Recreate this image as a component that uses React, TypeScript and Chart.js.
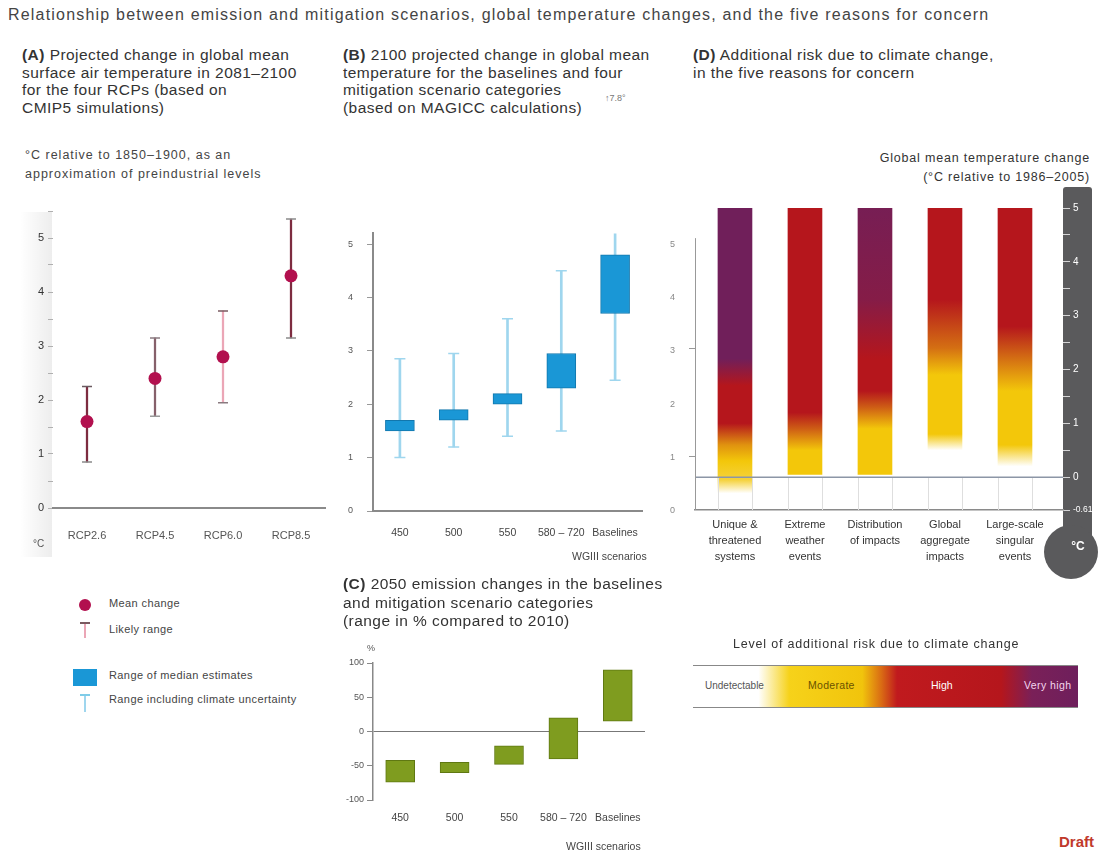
import React, { useEffect, useRef } from 'react';
import { Chart, registerables } from 'chart.js';
Chart.register(...registerables);

const FONT = '"Liberation Sans", Arial, Helvetica, sans-serif';
Chart.defaults.font.family = FONT;

// ---------- Panel A: CMIP5 projected change 2081-2100 (°C rel. 1850-1900)
const rcpLabels = ['RCP2.6', 'RCP4.5', 'RCP6.0', 'RCP8.5'];
const rcpMean = [1.6, 2.4, 2.8, 4.3];
const rcpLow = [0.85, 1.7, 1.95, 3.15];
const rcpHigh = [2.25, 3.15, 3.65, 5.35];

// ---------- Panel B: 2100 change, MAGICC (°C rel. 1850-1900)
const scenarioLabels = ['450', '500', '550', '580 – 720', 'Baselines'];
const tempMedianLow = [1.5, 1.7, 2.0, 2.3, 3.7];
const tempMedianHigh = [1.7, 1.9, 2.2, 2.95, 4.8];
const tempFullLow = [1.0, 1.2, 1.4, 1.5, 2.45];
const tempFullHigh = [2.85, 2.95, 3.6, 4.5, 7.8];
const tempTicks = [0, 1, 2, 3, 4, 5];

// ---------- Panel C: 2050 emission change (% vs 2010)
const emissionLow = [-74, -60, -48, -40, 15];
const emissionHigh = [-42, -45, -21, 20, 90];
const emissionTicks = [-100, -50, 0, 50, 100];

// ---------- Panel D: reasons for concern (°C rel. 1986-2005)
const reasonLabels = [
  ['Unique &', 'threatened', 'systems'],
  ['Extreme', 'weather', 'events'],
  ['Distribution', 'of impacts'],
  ['Global', 'aggregate', 'impacts'],
  ['Large-scale', 'singular', 'events'],
];
const reasonBase = [-0.3, 0.05, 0.05, 0.05, 0.05];
const reasonTop = [5, 5, 5, 5, 5];
// [temperature, risk level: 0 undetectable, 1 moderate, 2 high, 3 very high]
const riskUnique = [[-0.3, 0], [-0.05, 0.8], [0.3, 1], [0.6, 1.3], [1.0, 2], [1.7, 2], [2.2, 3], [4.7, 3], [5, 3.15]];
const riskExtreme = [[0.05, 1], [0.5, 1], [0.9, 1.6], [1.2, 2], [5, 2]];
const riskDistribution = [[0.05, 1], [0.9, 1], [1.3, 1.6], [1.6, 2], [2.2, 2], [3.3, 2.7], [5, 2.9]];
const riskGlobal = [[0.5, 0], [0.8, 1], [1.9, 1], [2.4, 1.5], [3.3, 2], [5, 2]];
const riskSingular = [[0.2, 0], [0.6, 1], [1.6, 1], [2.2, 1.5], [2.8, 2], [5, 2]];
const riskProfiles = [riskUnique, riskExtreme, riskDistribution, riskGlobal, riskSingular];
const thermoTicks = [-0.61, 0, 0.5, 1, 1.5, 2, 2.5, 3, 3.5, 4, 4.5, 5];
const thermoLabels = [-0.61, 0, 1, 2, 3, 4, 5];
const preindTicks = [1, 3];

const riskPalette = [[255, 255, 255], [243, 199, 10], [181, 22, 28], [112, 31, 90]];
function riskColor(level: number) {
  const l = Math.max(0, Math.min(3, level));
  const i = Math.min(2, Math.floor(l));
  const f = l - i;
  const a = riskPalette[i], b = riskPalette[i + 1];
  const c = a.map((v, k) => Math.round(v + (b[k] - v) * f));
  return `rgb(${c[0]},${c[1]},${c[2]})`;
}

const base: any = {
  responsive: false,
  animation: false,
  devicePixelRatio: 1,
  events: [],
  plugins: { legend: { display: false }, tooltip: { enabled: false } },
};

function configA(): any {
  return {
    type: 'bar',
    data: {
      labels: rcpLabels,
      datasets: [
        { type: 'bar', data: rcpLow.map((v, i) => [v, rcpHigh[i]]), backgroundColor: ['#7d2c40', '#86606a', '#eba6b6', '#7d2c40'], barThickness: 1.6, order: 3 },
        { type: 'line', data: rcpHigh, showLine: false, pointStyle: 'line', pointRadius: 5, pointBorderColor: ['#6a5a60', '#8a7a80', '#7a5a60', '#8a8a8a'], pointBorderWidth: 1.5, order: 2 },
        { type: 'line', data: rcpLow, showLine: false, pointStyle: 'line', pointRadius: 5, pointBorderColor: ['#8a8a8a', '#9a9a9a', '#8a7a80', '#8a8a8a'], pointBorderWidth: 1.5, order: 2 },
        { type: 'line', data: rcpMean, showLine: false, pointStyle: 'circle', pointRadius: 6.5, pointBackgroundColor: '#b2104e', pointBorderColor: '#b2104e', pointBorderWidth: 0, order: 1 },
      ],
    },
    options: {
      ...base,
      layout: { padding: { top: 11, right: 15, left: 0, bottom: 0 } },
      scales: {
        x: {
          grid: { display: false, drawTicks: false },
          border: { display: true, color: '#8a8a8a', width: 2 },
          ticks: { color: '#555', font: { size: 11 }, padding: 21, maxRotation: 0, minRotation: 0, autoSkip: false },
          afterFit: (s: any) => { s.height = 52; },
        },
        y: {
          min: 0, max: 5.5,
          ticks: { stepSize: 0.5, color: '#333', font: { size: 11 }, padding: 4, callback: (v: number) => (Number.isInteger(v) ? String(v) : '') },
          grid: { drawOnChartArea: false, tickLength: 5, color: '#b0b0b0' },
          border: { display: false },
          afterFit: (s: any) => { s.width = 53; },
        },
      },
    },
  };
}

function configB(): any {
  return {
    type: 'bar',
    data: {
      labels: scenarioLabels,
      datasets: [
        { type: 'bar', data: tempFullLow.map((v, i) => [v, tempFullHigh[i]]), backgroundColor: '#9fd6ee', barThickness: 2, grouped: false, order: 3 },
        { type: 'bar', data: tempMedianLow.map((v, i) => [v, tempMedianHigh[i]]), backgroundColor: '#1a97d6', borderColor: '#1277ad', borderWidth: 1, borderSkipped: false, barThickness: 29, grouped: false, order: 1 },
        { type: 'line', data: tempFullHigh, showLine: false, pointStyle: 'line', pointRadius: 5.5, pointBorderColor: '#9fd6ee', pointBorderWidth: 1.5, order: 2 },
        { type: 'line', data: tempFullLow, showLine: false, pointStyle: 'line', pointRadius: 5.5, pointBorderColor: '#9fd6ee', pointBorderWidth: 1.5, order: 2 },
      ],
    },
    options: {
      ...base,
      layout: { padding: { top: 33, right: 0, left: 0, bottom: 0 } },
      scales: {
        x: {
          grid: { display: false, drawTicks: false },
          border: { display: true, color: '#8a8a8a', width: 2 },
          ticks: { color: '#444', font: { size: 10.5 }, padding: 16, maxRotation: 0, minRotation: 0, autoSkip: false },
          afterFit: (s: any) => { s.height = 49; },
        },
        y: {
          min: 0, max: 5.2,
          afterBuildTicks: (s: any) => { s.ticks = tempTicks.map((value) => ({ value })); },
          ticks: { color: '#555', font: { size: 9 }, padding: 14 },
          grid: { drawOnChartArea: false, tickLength: 6, color: '#999' },
          border: { display: true, color: '#8a8a8a', width: 2 },
          afterFit: (s: any) => { s.width = 33; },
        },
        y2: {
          position: 'right',
          min: 0, max: 5.2,
          afterBuildTicks: (s: any) => { s.ticks = tempTicks.map((value) => ({ value })); },
          ticks: { color: '#888', font: { size: 9 }, padding: 28 },
          grid: { display: false, drawTicks: false },
          border: { display: false },
          afterFit: (s: any) => { s.width = 43; },
        },
      },
    },
  };
}

function configC(): any {
  return {
    type: 'bar',
    data: {
      labels: scenarioLabels,
      datasets: [
        { type: 'bar', data: emissionLow.map((v, i) => [v, emissionHigh[i]]), backgroundColor: '#7f9c1f', borderColor: '#5f7812', borderWidth: 1, borderSkipped: false, barThickness: 29 },
      ],
    },
    options: {
      ...base,
      layout: { padding: { top: 23, right: 20, left: 0, bottom: 0 } },
      scales: {
        x: {
          grid: { display: false, drawTicks: false },
          border: { display: false },
          ticks: { color: '#444', font: { size: 10.5 }, padding: 12, maxRotation: 0, minRotation: 0, autoSkip: false },
          afterFit: (s: any) => { s.height = 40; },
        },
        y: {
          min: -100, max: 100,
          afterBuildTicks: (s: any) => { s.ticks = emissionTicks.map((value) => ({ value })); },
          ticks: { color: '#555', font: { size: 9 }, padding: 3 },
          grid: { color: (c: any) => (c.tick && c.tick.value === 0 ? '#777' : 'rgba(0,0,0,0)'), tickColor: '#888', tickLength: 6 },
          border: { display: true, color: '#888', width: 1.5 },
          afterFit: (s: any) => { s.width = 53; },
        },
      },
    },
  };
}

function riskGradient(c: any) {
  const chart = c.chart;
  if (!chart.chartArea || c.dataIndex === undefined) return 'rgba(0,0,0,0)';
  const i = c.dataIndex;
  const y = chart.scales.y;
  const lo = reasonBase[i], hi = reasonTop[i];
  const y0 = y.getPixelForValue(lo), y1 = y.getPixelForValue(hi);
  const g = chart.ctx.createLinearGradient(0, y0, 0, y1);
  riskProfiles[i].forEach(([t, l]) => {
    const p = Math.max(0, Math.min(1, (t - lo) / (hi - lo)));
    g.addColorStop(p, riskColor(l));
  });
  return g;
}

const thermoPlugin = {
  id: 'thermo',
  beforeDraw(chart: any) {
    const { ctx, chartArea } = chart;
    const y = chart.scales.y;
    const x0 = y.left;
    ctx.save();
    ctx.fillStyle = '#5a5a5c';
    ctx.beginPath();
    ctx.roundRect(x0, chartArea.top - 21, 29, chartArea.bottom - chartArea.top + 50, 3);
    ctx.fill();
    ctx.beginPath();
    ctx.arc(x0 + 8, chartArea.bottom + 42, 27, 0, Math.PI * 2);
    ctx.fill();
    ctx.fillStyle = '#ffffff';
    ctx.font = `bold 12px ${FONT}`;
    ctx.textAlign = 'center';
    ctx.textBaseline = 'middle';
    ctx.fillText('°C', x0 + 15, chartArea.bottom + 37);
    ctx.restore();
  },
  afterDatasetsDraw(chart: any) {
    const { ctx, chartArea } = chart;
    const y = chart.scales.y;
    const yl = chart.scales.yL;
    const y0 = y.getPixelForValue(0);
    ctx.save();
    ctx.strokeStyle = '#dedede';
    ctx.lineWidth = 1;
    chart.getDatasetMeta(0).data.forEach((el: any) => {
      [el.x - el.width / 2, el.x + el.width / 2].forEach((xx) => {
        ctx.beginPath();
        ctx.moveTo(Math.round(xx) + 0.5, y0);
        ctx.lineTo(Math.round(xx) + 0.5, chartArea.bottom);
        ctx.stroke();
      });
    });
    ctx.strokeStyle = '#8c96a6';
    ctx.lineWidth = 1.5;
    ctx.beginPath();
    ctx.moveTo(chartArea.left, y0);
    ctx.lineTo(chartArea.right, y0);
    ctx.stroke();
    ctx.strokeStyle = '#999';
    ctx.lineWidth = 1;
    ctx.beginPath();
    ctx.moveTo(chartArea.left + 0.5, yl.getPixelForValue(5.05));
    ctx.lineTo(chartArea.left + 0.5, chartArea.bottom);
    ctx.stroke();
    ctx.restore();
  },
};

function configD(): any {
  return {
    type: 'bar',
    data: {
      datasets: [
        {
          type: 'bar',
          data: reasonBase.map((b, i) => ({ x: i, y: [b, reasonTop[i]] })),
          backgroundColor: riskGradient,
          barThickness: 34,
          borderWidth: 0,
        },
      ],
    },
    plugins: [thermoPlugin],
    options: {
      ...base,
      layout: { padding: { top: 28, right: 0, left: 0, bottom: 0 } },
      scales: {
        x: {
          type: 'linear', offset: false,
          min: -0.571, max: 4.686,
          afterBuildTicks: (s: any) => { s.ticks = reasonLabels.map((_, i) => ({ value: i })); },
          ticks: { color: '#333', font: { size: 11, lineHeight: 1.45 }, padding: 7, maxRotation: 0, minRotation: 0, autoSkip: false, callback: (v: number) => reasonLabels[v] || '' },
          grid: { display: false, drawTicks: false },
          border: { display: true, color: '#8a8a8a', width: 1.5 },
          afterFit: (s: any) => { s.height = 80; },
        },
        y: {
          position: 'right',
          min: -0.61, max: 5,
          afterBuildTicks: (s: any) => { s.ticks = thermoTicks.map((value) => ({ value })); },
          ticks: {
            color: '#ffffff', padding: 3,
            font: (c: any) => ({ size: c.tick && c.tick.value < 0 ? 8.5 : 10 }),
            callback: (v: number) => (thermoLabels.includes(v) ? String(v) : ''),
          },
          grid: { drawOnChartArea: false, tickLength: 7, color: 'rgba(255,255,255,0.75)' },
          border: { display: false },
          afterFit: (s: any) => { s.width = 36; },
        },
        yL: {
          position: 'left',
          min: 0, max: 5.61,
          afterBuildTicks: (s: any) => { s.ticks = preindTicks.map((value) => ({ value })); },
          ticks: { display: false },
          grid: { drawOnChartArea: false, tickLength: 6, color: '#999' },
          border: { display: false },
          afterFit: (s: any) => { s.width = 15; },
        },
      },
    },
  };
}

function ChartBox({ left, top, width, height, make }: any) {
  const ref = useRef<HTMLCanvasElement>(null);
  useEffect(() => {
    const c = new Chart(ref.current as HTMLCanvasElement, make());
    return () => c.destroy();
  }, []);
  return <canvas ref={ref} width={width} height={height} style={{ position: 'absolute', left, top, width, height }} />;
}

function T({ x, y, r, s = 12, c = '#333', w = 400, lh, ls, children }: any) {
  const st: any = {
    position: 'absolute', top: y, fontSize: s, color: c, fontWeight: w,
    lineHeight: lh ? lh + 'px' : 'normal', whiteSpace: 'pre', fontFamily: FONT, letterSpacing: ls,
  };
  if (r !== undefined) { st.right = r; st.textAlign = 'right'; } else st.left = x;
  return <div style={st}>{children}</div>;
}

const HS = 15.5;
const HLS = 0.45;

export default function App() {
  return (
    <div style={{ position: 'fixed', left: 0, top: 0, width: 1099, height: 855, background: '#fff', overflow: 'hidden', fontFamily: FONT }}>
      <T x={8} y={5} s={16} c="#444" lh={19} ls={1.2}>Relationship between emission and mitigation scenarios, global temperature changes, and the five reasons for concern</T>

      {/* Panel A */}
      <T x={22} y={46} s={HS} ls={HLS} lh={17.5}><b>(A)</b> Projected change in global mean{'\n'}surface air temperature in 2081–2100{'\n'}for the four RCPs (based on{'\n'}CMIP5 simulations)</T>
      <T x={25} y={146} s={12.5} ls={1} c="#444" lh={19}>°C relative to 1850–1900, as an{'\n'}approximation of preindustrial levels</T>
      <div style={{ position: 'absolute', left: 20, top: 212, width: 32, height: 345, background: 'linear-gradient(to right, rgba(0,0,0,0), rgba(0,0,0,0.07))' }} />
      <ChartBox left={0} top={200} width={340} height={360} make={configA} />
      <T x={33} y={538} s={10} c="#555">°C</T>

      {/* Legend A/B */}
      <div style={{ position: 'absolute', left: 79, top: 599, width: 12, height: 12, borderRadius: 6, background: '#b2104e' }} />
      <T x={109} y={597} s={11} ls={0.4} c="#444">Mean change</T>
      <div style={{ position: 'absolute', left: 84, top: 622, width: 2, height: 16, background: '#eba6b6' }} />
      <div style={{ position: 'absolute', left: 80, top: 622, width: 10, height: 1.5, background: '#7a5a60' }} />
      <T x={109} y={623} s={11} ls={0.4} c="#444">Likely range</T>
      <div style={{ position: 'absolute', left: 73, top: 669, width: 24, height: 17, background: '#1a97d6' }} />
      <T x={109} y={669} s={11} ls={0.4} c="#444">Range of median estimates</T>
      <div style={{ position: 'absolute', left: 84, top: 694, width: 2, height: 18, background: '#9fd6ee' }} />
      <div style={{ position: 'absolute', left: 80, top: 694, width: 10, height: 1.5, background: '#7fcce8' }} />
      <T x={109} y={693} s={11} ls={0.4} c="#444">Range including climate uncertainty</T>

      {/* Panel B */}
      <T x={343} y={46} s={HS} ls={HLS} lh={17.5}><b>(B)</b> 2100 projected change in global mean{'\n'}temperature for the baselines and four{'\n'}mitigation scenario categories{'\n'}(based on MAGICC calculations)</T>
      <T x={605} y={93} s={9} c="#777">↑7.8°</T>
      <ChartBox left={340} top={200} width={345} height={360} make={configB} />
      <T x={572} y={550} s={10.5} c="#444">WGIII scenarios</T>

      {/* Panel C */}
      <T x={343} y={575} s={HS} ls={HLS} lh={18.5}><b>(C)</b> 2050 emission changes in the baselines{'\n'}and mitigation scenario categories{'\n'}(range in % compared to 2010)</T>
      <ChartBox left={320} top={640} width={345} height={200} make={configC} />
      <T x={367} y={643} s={9} c="#555">%</T>
      <T x={566} y={840} s={10.5} c="#444">WGIII scenarios</T>

      {/* Panel D */}
      <T x={693} y={46} s={HS} ls={HLS} lh={17.5}><b>(D)</b> Additional risk due to climate change,{'\n'}in the five reasons for concern</T>
      <T r={9} y={149} s={12.5} ls={0.8} c="#333" lh={19}>Global mean temperature change{'\n'}(°C relative to 1986–2005)</T>
      <ChartBox left={680} top={180} width={419} height={410} make={configD} />

      {/* Risk legend */}
      <T x={733} y={637} s={12.5} ls={0.8} c="#333">Level of additional risk due to climate change</T>
      <div style={{
        position: 'absolute', left: 693, top: 665, width: 385, height: 41,
        borderTop: '1px solid #888', borderBottom: '1px solid #888',
        background: 'linear-gradient(to right, #ffffff 0%, #ffffff 17%, #f6d21a 25%, #f1c40c 44%, #d96a14 49%, #c01a1e 53%, #b5161c 80%, #7a2058 88%, #6e1f5c 100%)',
      }} />
      <T x={705} y={680} s={10} c="#555">Undetectable</T>
      <T x={808} y={679} s={10.5} ls={0.3} c="#6a5200">Moderate</T>
      <T x={931} y={679} s={10.5} c="#fff">High</T>
      <T x={1024} y={679} s={10.5} ls={0.4} c="#f4d6ee">Very high</T>

      <T r={5} y={833} s={15} w={700} c="#c0392b">Draft</T>
    </div>
  );
}
